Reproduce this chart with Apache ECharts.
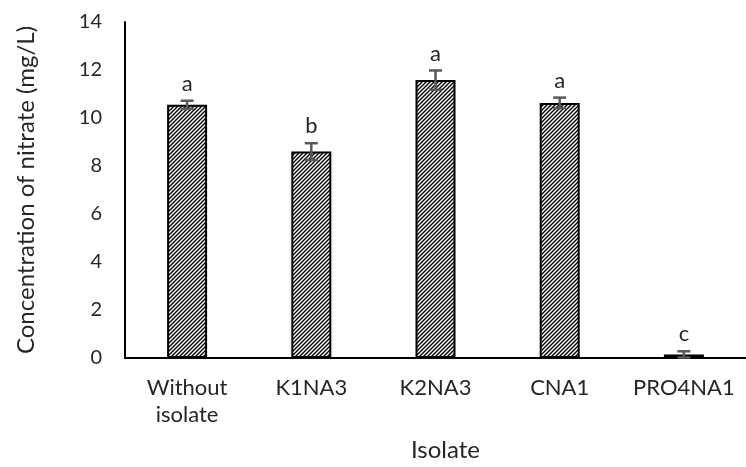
<!DOCTYPE html>
<html>
<head>
<meta charset="utf-8">
<script src="https://cdn.jsdelivr.net/npm/echarts@6/dist/echarts.min.js"></script>
<style>
  html, body { margin: 0; padding: 0; background: #fff; }
  #chart { width: 746px; height: 467px; }
</style>
</head>
<body>
<div id="chart"></div>
<script>
// Nitrate concentration per isolate, with standard error and significance letters
const categories = ['Without\nisolate', 'K1NA3', 'K2NA3', 'CNA1', 'PRO4NA1'];
const nitrate = [10.55, 8.6, 11.58, 10.63, 0.15];
const errors = [0.17, 0.35, 0.4, 0.22, 0.13];
const letters = ['a', 'b', 'a', 'a', 'c'];
const yTicks = [0, 2, 4, 6, 8, 10, 12, 14];

const FONT = 'Lato';
const TEXT = '#262626';

// Diagonal hatch fill for the bars
function hatchPattern() {
  const c = document.createElement('canvas');
  const s = 4;
  c.width = s; c.height = s;
  const ctx = c.getContext('2d');
  ctx.fillStyle = '#ffffff';
  ctx.fillRect(0, 0, s, s);
  ctx.strokeStyle = '#000000';
  ctx.lineWidth = 1.4;
  ctx.beginPath();
  ctx.moveTo(-1, s + 1); ctx.lineTo(s + 1, -1);
  ctx.moveTo(-1, 1); ctx.lineTo(1, -1);
  ctx.moveTo(s - 1, s + 1); ctx.lineTo(s + 1, s - 1);
  ctx.stroke();
  return c;
}

const chart = echarts.init(document.getElementById('chart'), null, { renderer: 'canvas' });

const errData = nitrate.map((v, i) => [i, v, errors[i]]);

chart.setOption({
  animation: false,
  grid: { left: 125, right: -9, top: 22, bottom: 108 },
  xAxis: {
    type: 'category',
    data: categories,
    name: 'Isolate',
    nameLocation: 'middle',
    nameGap: 80,
    nameTextStyle: { fontFamily: FONT, fontSize: 24, color: TEXT, padding: [0, 0, 0, 20] },
    axisLine: { lineStyle: { color: '#000', width: 2 } },
    axisTick: { show: false },
    axisLabel: { interval: 0, fontFamily: FONT, fontSize: 22, color: TEXT, margin: 16, lineHeight: 27 }
  },
  yAxis: {
    type: 'value',
    min: yTicks[0],
    max: yTicks[yTicks.length - 1],
    interval: 2,
    name: 'Concentration of nitrate (mg/L)',
    nameLocation: 'middle',
    nameGap: 87,
    nameTextStyle: { fontFamily: FONT, fontSize: 24, color: TEXT },
    axisLine: { show: true, lineStyle: { color: '#000', width: 2 } },
    axisTick: { show: false },
    splitLine: { show: false },
    axisLabel: { fontFamily: FONT, fontSize: 20, color: TEXT, margin: 23 }
  },
  series: [
    {
      type: 'bar',
      data: nitrate,
      barWidth: 40,
      itemStyle: {
        color: { image: hatchPattern(), repeat: 'repeat' },
        borderColor: '#000',
        borderWidth: 2
      }
    },
    {
      type: 'custom',
      data: errData,
      z: 10,
      renderItem: function (params, api) {
        const i = api.value(0);
        const v = api.value(1);
        const e = api.value(2);
        const top = api.coord([i, v + e]);
        const bot = api.coord([i, Math.max(v - e, 0)]);
        const half = 6.5;
        const stroke = { stroke: '#595959', lineWidth: 2.5 };
        return {
          type: 'group',
          children: [
            { type: 'line', shape: { x1: top[0], y1: top[1], x2: bot[0], y2: bot[1] }, style: stroke },
            { type: 'line', shape: { x1: top[0] - half, y1: top[1], x2: top[0] + half, y2: top[1] }, style: stroke },
            { type: 'line', shape: { x1: bot[0] - half, y1: bot[1], x2: bot[0] + half, y2: bot[1] }, style: stroke },
            {
              type: 'text',
              style: {
                x: top[0], y: top[1] - 6,
                text: letters[params.dataIndex],
                align: 'center', verticalAlign: 'bottom',
                fontFamily: FONT, fontSize: 22, fill: TEXT
              }
            }
          ]
        };
      }
    }
  ]
});
</script>
</body>
</html>
